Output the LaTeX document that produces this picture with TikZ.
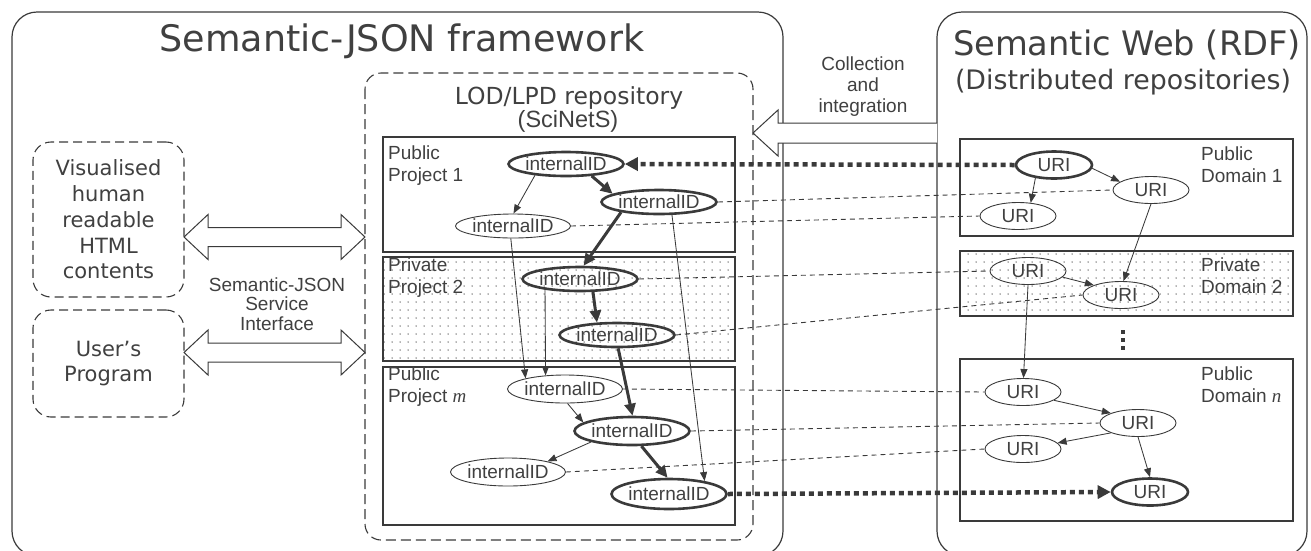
\documentclass[tikz,border=0pt]{standalone}
\usepackage{fontspec}
\setmainfont{Liberation Sans}
\newfontfamily\dvs{DejaVu Sans}
\newfontfamily\tms{Liberation Serif}
\usetikzlibrary{arrows.meta,patterns.meta,shapes.geometric}
\definecolor{ln}{HTML}{3A3A3A}
\definecolor{tx}{HTML}{404040}
\begin{document}
\begin{tikzpicture}[x=1pt,y=-1pt,
  every node/.style={text=tx},
  outer/.style={draw=ln, line width=1.2pt, rounded corners=25pt},
  dbox/.style={draw=ln, line width=1.1pt, dash pattern=on 10pt off 5pt, rounded corners=16pt},
  lbox/.style={draw=ln, line width=1.1pt, dash pattern=on 9pt off 5pt, rounded corners=18pt,
     font=\dvs\fontsize{21}{25.7}\selectfont, align=center, inner sep=0pt},
  proj/.style={draw=ln, line width=1.2pt},
  priv/.style={proj, pattern={Dots[distance=8pt,radius=0.75pt]}, pattern color=black!60},
  lab/.style={anchor=north west, inner sep=0pt, align=left, font=\fontsize{19}{21.5}\selectfont},
  iid/.style={ellipse, draw=ln, line width=0.9pt, inner sep=0pt, minimum width=113pt,
     minimum height=24pt, font=\fontsize{19}{19}\selectfont},
  iidb/.style={iid, line width=2.6pt},
  uri/.style={ellipse, draw=ln, line width=0.9pt, inner sep=0pt, minimum width=76pt,
     minimum height=27pt, font=\fontsize{19}{19}\selectfont},
  urib/.style={uri, line width=2.6pt},
  thinar/.style={draw=ln, line width=0.85pt, -{Triangle[length=9pt,width=7pt]}},
  thickar/.style={draw=ln, line width=3pt, -{Triangle[length=12pt,width=11pt]}},
  link/.style={draw=ln, line width=0.9pt, dash pattern=on 5pt off 4pt},
  dotar/.style={draw=ln, line width=4.5pt, dash pattern=on 5pt off 4pt, -{Triangle[length=13pt,width=13pt]}},
  hollow/.style={draw=ln, line width=1pt, fill=white}
]
\useasboundingbox (0,0) rectangle (1311,550);

% outer frames
\draw[outer] (12,12) rectangle (783,556);
\draw[outer] (937,12) rectangle (1307,556);

% titles
\node[font=\dvs\fontsize{36.5}{40}\selectfont, anchor=base] (t1) at (402,51) {Semantic-JSON framework};
\node[font=\dvs\fontsize{33.7}{38}\selectfont, anchor=base] (t2) at (1127,55) {Semantic Web (RDF)};
\node[font=\dvs\fontsize{26.8}{30}\selectfont, anchor=base] (t3) at (1123,89) {(Distributed repositories)};

% LOD repository box
\draw[dbox] (365,73) rectangle (753,540);
\node[font=\dvs\fontsize{23.5}{26}\selectfont, anchor=base, inner sep=0pt] (lodt) at (569,104) {LOD/LPD repository};
\node[font=\fontsize{23.5}{26}\selectfont, anchor=base, inner sep=0pt] (scin) at (568,127) {(SciNetS)};

% project boxes
\draw[proj] (383,137) rectangle (735,252);
\draw[priv] (383,257) rectangle (735,361);
\draw[proj] (383,367) rectangle (735,525);
% domain boxes
\draw[proj] (960,139) rectangle (1293,236);
\draw[priv] (960,251) rectangle (1293,316);
\draw[proj] (960,359) rectangle (1293,521);

% box labels
\node[lab] (p1) at (388,146) {Public\\Project 1};
\node[lab] (p2) at (388,258) {Private\\Project 2};
\node[lab] (pm) at (388,367) {Public\\Project {\tms\itshape m}};
\node[lab] (d1) at (1201,147) {Public\\Domain 1};
\node[lab] (d2) at (1201,258) {Private\\Domain 2};
\node[lab] (dn) at (1201,367) {Public\\Domain {\tms\itshape n}};

% vertical dots
\fill[ln] (1121,330) rectangle (1125,334);
\fill[ln] (1121,338) rectangle (1125,342);
\fill[ln] (1121,346) rectangle (1125,350);

% left boxes
\node[lbox, minimum width=151pt, minimum height=155pt] (vis) at (108.5,219.5)
  {Visualised\\human\\readable\\HTML\\contents};
\node[lbox, minimum width=151pt, minimum height=107pt] (usr) at (108.5,363.5)
  {User’s\\Program};
\node[font=\fontsize{19}{19.5}\selectfont, align=center] (sji) at (277,304)
  {Semantic-JSON\\Service\\Interface};
\node[font=\fontsize{19}{21}\selectfont, align=center] (coll) at (863,87)
  {Collection\\and\\integration};

% hollow double arrows
\draw[hollow] (184,237) -- (208,214.5) -- (208,227.5) -- (341,227.5) -- (341,214.5) -- (365,237)
  -- (341,259.5) -- (341,246.5) -- (208,246.5) -- (208,259.5) -- cycle;
\draw[hollow] (184,352.5) -- (208,330) -- (208,343) -- (341,343) -- (341,330) -- (365,352.5)
  -- (341,375) -- (341,362) -- (208,362) -- (208,375) -- cycle;
% collection arrow
\draw[hollow] (937,123) -- (778,123) -- (778,110) -- (753,133) -- (778,156) -- (778,143) -- (937,143);

% internalID nodes
\node[iidb] (A1) at (566,164) {internalID};
\node[iidb] (A2) at (659,202) {internalID};
\node[iid]  (A3) at (513,226) {internalID};
\node[iidb] (B1) at (580,279) {internalID};
\node[iidb] (B2) at (617,335) {internalID};
\node[iid, minimum height=28pt]  (C1) at (565,389) {internalID};
\node[iidb, minimum height=28pt] (C2) at (632,431) {internalID};
\node[iid, minimum height=28pt]  (C3) at (508,472) {internalID};
\node[iidb, minimum height=30pt] (C4) at (669,494) {internalID};

% URI nodes
\node[urib] (U1) at (1054,165) {URI};
\node[uri]  (U2) at (1151,190) {URI};
\node[uri]  (U3) at (1018,216) {URI};
\node[uri]  (U4) at (1028,271) {URI};
\node[uri]  (U5) at (1121,295) {URI};
\node[uri]  (U6) at (1023,392) {URI};
\node[uri]  (U7) at (1138,423) {URI};
\node[uri]  (U8) at (1023,449) {URI};
\node[urib] (U9) at (1150,492) {URI};

% left graph edges
\draw[thickar] (A1.-25) -- (A2.170);
\draw[thinar] (A1.-160) -- (A3.88);
\draw[thickar] (A2.-165) -- (B1.75);
\draw[thickar] (B1.-45) -- (B2.148);
\draw[thickar] (B2.-85) -- (C2.88);
\draw[thickar] (C2.-58) -- (C4.95);
\draw[thinar] (A3.-100) -- (C1.165);
\draw[thinar] (B1.-163) -- (C1.145);
\draw[thinar] (A2.-45) -- (C4.20);
\draw[thinar] (C1.-80) -- (C2.170);
\draw[thinar] (C2.-165) -- (C3.15);

% right graph edges
\draw[thinar] (U1.-5) -- (U2.165);
\draw[thinar] (U1.-145) -- (U3.46);
\draw[thinar] (U2.-90) -- (U5.80);
\draw[thinar] (U4.-10) -- (U5.160);
\draw[thinar] (U4.-90) -- (U6.88);
\draw[thinar] (U6.-15) -- (U7.160);
\draw[thinar] (U7.-160) -- (U8.10);
\draw[thinar] (U7.-90) -- (U9.90);

% cross links
\draw[link] (A2.east) -- (U2.west);
\draw[link] (A3.east) -- (U3.west);
\draw[link] (B1.east) -- (U4.west);
\draw[link] (B2.east) -- (U5.west);
\draw[link] (C1.east) -- (U6.west);
\draw[link] (C2.east) -- (U7.west);
\draw[link] (C3.east) -- (U8.west);
\draw[dotar] (U1.west) -- (A1.east);
\draw[dotar] (C4.east) -- (U9.west);
\end{tikzpicture}
\end{document}
